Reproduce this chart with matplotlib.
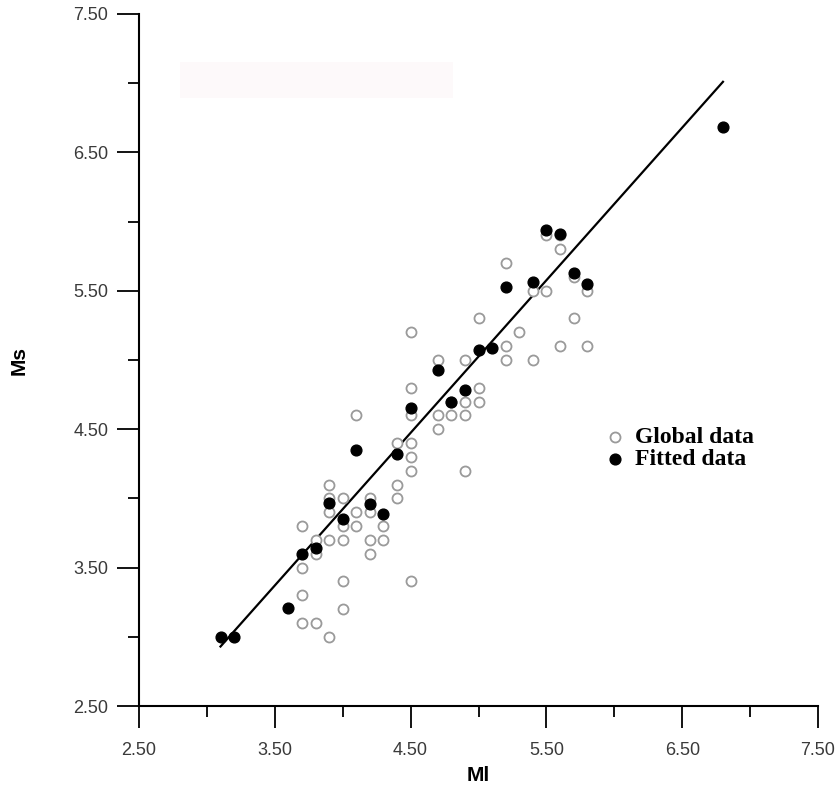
import matplotlib.pyplot as plt
from matplotlib.patches import Rectangle

# Global data (open circles)
global_ml = [3.7, 3.7, 3.7, 3.7,
             3.8, 3.8, 3.8,
             3.9, 3.9, 3.9, 3.9, 3.9,
             4.0, 4.0, 4.0, 4.0, 4.0,
             4.1, 4.1, 4.1,
             4.2, 4.2, 4.2, 4.2,
             4.3, 4.3,
             4.4, 4.4, 4.4,
             4.5, 4.5, 4.5, 4.5, 4.5, 4.5, 4.5,
             4.7, 4.7, 4.7,
             4.8, 4.8,
             4.9, 4.9, 4.9, 4.9,
             5.0, 5.0, 5.0,
             5.2, 5.2, 5.2,
             5.3,
             5.4, 5.4,
             5.5, 5.5,
             5.6, 5.6, 5.6,
             5.7, 5.7,
             5.8, 5.8]
global_ms = [3.1, 3.3, 3.5, 3.8,
             3.1, 3.6, 3.7,
             3.0, 3.7, 3.9, 4.0, 4.1,
             3.2, 3.4, 3.7, 3.8, 4.0,
             3.8, 3.9, 4.6,
             3.6, 3.7, 3.9, 4.0,
             3.7, 3.8,
             4.0, 4.1, 4.4,
             3.4, 4.2, 4.3, 4.4, 4.6, 4.8, 5.2,
             4.5, 4.6, 5.0,
             4.6, 4.7,
             4.2, 4.6, 4.7, 5.0,
             4.7, 4.8, 5.3,
             5.0, 5.1, 5.7,
             5.2,
             5.0, 5.5,
             5.5, 5.9,
             5.1, 5.8, 5.9,
             5.3, 5.6,
             5.1, 5.5]

# Fitted data (filled circles)
fitted_ml = [3.1, 3.2, 3.6, 3.7, 3.8, 3.9, 4.0, 4.1, 4.2, 4.3, 4.4, 4.5,
             4.7, 4.8, 4.9, 5.0, 5.1, 5.2, 5.4, 5.5, 5.6, 5.7, 5.8, 6.8]
fitted_ms = [3.0, 3.0, 3.21, 3.6, 3.64, 3.97, 3.85, 4.35, 3.96, 3.89, 4.32, 4.65,
             4.93, 4.70, 4.78, 5.07, 5.09, 5.53, 5.56, 5.94, 5.91, 5.63, 5.55, 6.68]

# regression line end points
line_ml = [3.1, 6.8]
line_ms = [2.93, 7.01]

ticks = [2.5, 3.5, 4.5, 5.5, 6.5, 7.5]
minor_ticks = [3.0, 4.0, 5.0, 6.0, 7.0]

fig = plt.figure(figsize=(8.39, 7.90), dpi=100)
ax = fig.add_axes([0.1657, 0.1063, 0.8093, 0.876])

# faint shaded strip near the top (scan artefact)
fig.patches.append(Rectangle((0.215, 0.876), 0.325, 0.046, transform=fig.transFigure,
                             facecolor='#fdf9fa', edgecolor='none', zorder=0))

ax.plot(line_ml, line_ms, color='black', linewidth=1.6, zorder=2)
ax.scatter(global_ml, global_ms, s=52, facecolors='white', edgecolors='#9a9a9a',
           linewidths=1.3, label='Global data', zorder=3)
ax.scatter(fitted_ml, fitted_ms, s=60, color='black', label='Fitted data', zorder=4)

ax.set_xlim(2.5, 7.5)
ax.set_ylim(2.5, 7.5)
ax.set_xticks(ticks)
ax.set_yticks(ticks)
ax.set_xticks(minor_ticks, minor=True)
ax.set_yticks(minor_ticks, minor=True)
ax.set_xticklabels(['%.2f' % t for t in ticks])
ax.set_yticklabels(['%.2f' % t for t in ticks])

for side in ['top', 'right']:
    ax.spines[side].set_visible(False)
for side in ['left', 'bottom']:
    ax.spines[side].set_linewidth(1.5)

ax.tick_params(which='major', length=16, width=1.3, direction='out',
               labelsize=13, labelcolor='#3a3a3a', pad=6)
ax.tick_params(axis='x', which='major', pad=10)
ax.tick_params(which='minor', length=8, width=1.3, direction='out')
for lab in ax.get_xticklabels() + ax.get_yticklabels():
    lab.set_family('Liberation Sans')

ax.set_xlabel('Ml', fontsize=15, fontweight='bold', family='Liberation Sans', labelpad=5)
ax.set_ylabel('Ms', fontsize=15, fontweight='bold', family='Liberation Sans', labelpad=32)

leg = ax.legend(loc='upper left', bbox_to_anchor=(0.672, 0.418), frameon=False,
                handletextpad=0.4, labelspacing=0.05, borderaxespad=0,
                handlelength=0.9,
                prop={'family': 'Liberation Serif', 'weight': 'bold', 'size': 17})

plt.savefig('out.png', dpi=100)
